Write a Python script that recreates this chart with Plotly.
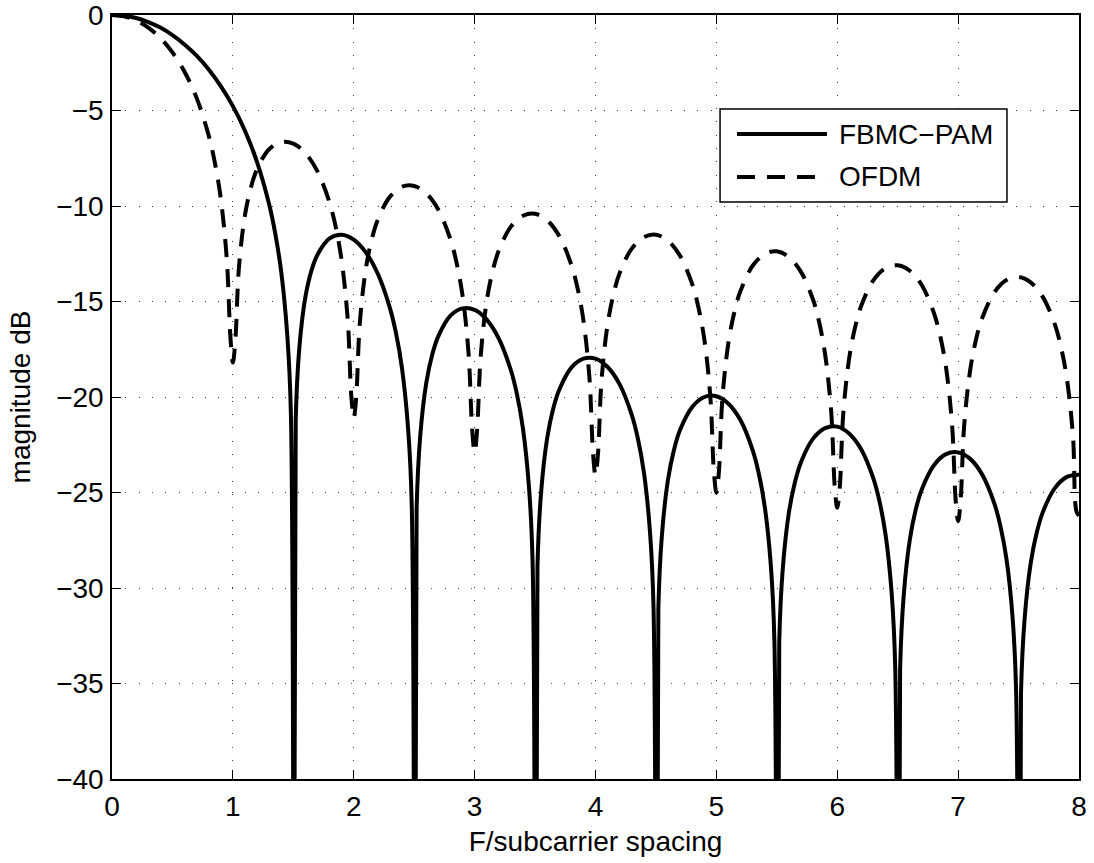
import plotly.graph_objects as go

# ---- data ----
ofdm_f = [0, 0.1, 0.2, 0.3, 0.4, 0.5, 0.6, 0.7, 0.8, 0.85, 0.9, 0.95, 0.98, 1.0,
          1.02, 1.05, 1.1, 1.15, 1.2, 1.3, 1.4, 1.5, 1.6, 1.7, 1.8, 1.85, 1.9, 1.95, 1.98, 2.0,
          2.02, 2.05, 2.1, 2.15, 2.2, 2.3, 2.4, 2.5, 2.6, 2.7, 2.8, 2.85, 2.9, 2.95, 2.98, 3.0,
          3.02, 3.05, 3.1, 3.15, 3.2, 3.3, 3.4, 3.5, 3.6, 3.7, 3.8, 3.85, 3.9, 3.95, 3.98, 4.0,
          4.02, 4.05, 4.1, 4.15, 4.2, 4.3, 4.4, 4.5, 4.6, 4.7, 4.8, 4.85, 4.9, 4.95, 4.98, 5.0,
          5.02, 5.05, 5.1, 5.15, 5.2, 5.3, 5.4, 5.5, 5.6, 5.7, 5.8, 5.85, 5.9, 5.95, 5.98, 6.0,
          6.02, 6.05, 6.1, 6.15, 6.2, 6.3, 6.4, 6.5, 6.6, 6.7, 6.8, 6.85, 6.9, 6.95, 6.98, 7.0,
          7.02, 7.05, 7.1, 7.15, 7.2, 7.3, 7.4, 7.5, 7.6, 7.7, 7.8, 7.85, 7.9, 7.95, 7.98, 8.0]
ofdm_db = [0, -0.07, -0.29, -0.66, -1.21, -1.96, -2.97, -4.34, -6.31, -7.70, -9.61, -12.81, -16.90, -18.2,
           -17.08, -13.24, -10.48, -9.01, -8.07, -7.03, -6.65, -6.73, -7.23, -8.19, -9.83, -11.07, -12.86, -15.93, -19.96, -21.1,
           -20.04, -16.15, -13.29, -11.72, -10.70, -9.51, -8.99, -8.95, -9.34, -10.20, -11.75, -12.95, -14.69, -17.73, -21.73, -22.9,
           -21.79, -17.87, -14.98, -13.38, -12.33, -11.08, -10.51, -10.41, -10.75, -11.57, -13.08, -14.26, -15.98, -19.00, -22.99, -24.1,
           -23.03, -19.11, -16.20, -14.58, -13.51, -12.23, -11.63, -11.50, -11.82, -12.61, -14.09, -15.26, -16.97, -19.98, -23.96, -25.0,
           -24.00, -20.06, -17.15, -15.52, -14.44, -13.13, -12.51, -12.37, -12.67, -13.45, -14.91, -16.07, -17.78, -20.78, -24.76, -25.8,
           -24.79, -20.85, -17.92, -16.29, -15.20, -13.88, -13.25, -13.10, -13.39, -14.15, -15.61, -16.76, -18.46, -21.45, -25.43, -26.5,
           -25.45, -21.51, -18.58, -16.94, -15.85, -14.52, -13.88, -13.72, -14.00, -14.76, -16.20, -17.35, -19.05, -22.03, -26.01, -26.2]

fbmc_f = [0, 0.1, 0.2, 0.3, 0.4, 0.5, 0.6, 0.7, 0.8, 0.9, 1.0, 1.1, 1.2, 1.3, 1.35, 1.4, 1.45, 1.48, 1.5,
          1.52, 1.55, 1.6, 1.65, 1.7, 1.8, 1.9, 2.0, 2.1, 2.2, 2.3, 2.35, 2.4, 2.45, 2.48, 2.5,
          2.52, 2.55, 2.6, 2.65, 2.7, 2.8, 2.9, 3.0, 3.1, 3.2, 3.3, 3.35, 3.4, 3.45, 3.48, 3.5,
          3.52, 3.55, 3.6, 3.65, 3.7, 3.8, 3.9, 4.0, 4.1, 4.2, 4.3, 4.35, 4.4, 4.45, 4.48, 4.5,
          4.52, 4.55, 4.6, 4.65, 4.7, 4.8, 4.9, 5.0, 5.1, 5.2, 5.3, 5.35, 5.4, 5.45, 5.48, 5.5,
          5.52, 5.55, 5.6, 5.65, 5.7, 5.8, 5.9, 6.0, 6.1, 6.2, 6.3, 6.35, 6.4, 6.45, 6.48, 6.5,
          6.52, 6.55, 6.6, 6.65, 6.7, 6.8, 6.9, 7.0, 7.1, 7.2, 7.3, 7.35, 7.4, 7.45, 7.48, 7.5,
          7.52, 7.55, 7.6, 7.65, 7.7, 7.8, 7.9, 8.0]
fbmc_db = [0, -0.04, -0.16, -0.37, -0.66, -1.05, -1.54, -2.13, -2.85, -3.72, -4.77, -6.06, -7.70, -9.91, -11.42, -13.45, -16.75, -20.92, -120,
           -21.18, -17.41, -14.76, -13.38, -12.55, -11.70, -11.50, -11.76, -12.43, -13.56, -15.36, -16.67, -18.53, -21.68, -25.75, -120,
           -25.89, -22.04, -19.26, -17.76, -16.81, -15.74, -15.36, -15.44, -15.95, -16.94, -18.60, -19.85, -21.66, -24.75, -28.78, -120,
           -28.88, -25.00, -22.16, -20.61, -19.62, -18.46, -17.99, -17.99, -18.43, -19.34, -20.94, -22.16, -23.93, -26.99, -31.01, -120,
           -31.09, -27.19, -24.32, -22.75, -21.72, -20.52, -20.00, -19.96, -20.35, -21.22, -22.78, -23.98, -25.73, -28.77, -32.78, -120,
           -32.84, -28.93, -26.05, -24.46, -23.41, -22.18, -21.63, -21.55, -21.92, -22.76, -24.29, -25.48, -27.22, -30.25, -34.25, -120,
           -34.30, -30.38, -27.49, -25.88, -24.83, -23.57, -22.99, -22.90, -23.24, -24.07, -25.58, -26.76, -28.49, -31.50, -35.50, -120,
           -35.55, -31.62, -28.72, -27.11, -26.04, -24.77, -24.18, -24.07]

series_names = ["FBMC\u2212PAM", "OFDM"]
x_ticks = [0, 1, 2, 3, 4, 5, 6, 7, 8]
y_ticks = [0, -5, -10, -15, -20, -25, -30, -35, -40]
x_title = "F/subcarrier spacing"
y_title = "magnitude dB"

FONT = "Liberation Sans, Arial, Helvetica, sans-serif"
FS = 28
DASH = "18px,12px"
LW = 4

fig = go.Figure()
fig.add_trace(go.Scatter(x=fbmc_f, y=fbmc_db, mode="lines", name=series_names[0],
                         line=dict(color="black", width=LW, shape="spline", smoothing=1),
                         showlegend=False))
fig.add_trace(go.Scatter(x=ofdm_f, y=ofdm_db, mode="lines", name=series_names[1],
                         line=dict(color="black", width=LW, dash=DASH, shape="spline", smoothing=1),
                         showlegend=False))

axis_common = dict(
    showline=True, linecolor="black", linewidth=1.5, mirror="ticks",
    ticks="inside", ticklen=9, tickwidth=1.2, tickcolor="black",
    showgrid=True, gridcolor="#3a3a3a", gridwidth=1, griddash="1px,12.3px",
    zeroline=False, automargin=False, ticklabeloverflow="allow",
    tickfont=dict(family=FONT, size=FS, color="black"),
)

fig.update_layout(
    width=1094, height=863,
    margin=dict(l=112, r=15, t=15, b=84, autoexpand=False),
    paper_bgcolor="white", plot_bgcolor="white",
    font=dict(family=FONT, color="black"),
    xaxis=dict(range=[0, 8], tickvals=x_ticks, ticklabelstandoff=2,
               title=dict(text=x_title, font=dict(family=FONT, size=FS), standoff=10),
               **axis_common),
    yaxis=dict(range=[-40, 0], tickvals=y_ticks, ticklabelstandoff=1,
               title=dict(text=y_title, font=dict(family=FONT, size=FS), standoff=17),
               **axis_common),
)

# legend box drawn in paper coordinates
lx0, lx1, ly0, ly1 = 0.6288, 0.9255, 0.7552, 0.877
fig.add_shape(type="rect", xref="paper", yref="paper", x0=lx0, x1=lx1, y0=ly0, y1=ly1,
              line=dict(color="black", width=1.5), fillcolor="white", layer="above")
rows = [(0.8442, "solid"), (0.788, DASH)]
for (yy, dsh), name in zip(rows, series_names):
    fig.add_shape(type="line", xref="paper", yref="paper", x0=0.6463, x1=0.7394, y0=yy, y1=yy,
                  line=dict(color="black", width=LW, dash=dsh), layer="above")
    fig.add_annotation(xref="paper", yref="paper", x=0.7497, y=yy, text=name, showarrow=False,
                       xanchor="left", yanchor="middle",
                       font=dict(family=FONT, size=FS, color="black"))

fig.write_html("out.html", config={"displayModeBar": False},
               post_script="document.body.style.margin='0';document.body.style.overflow='hidden';")
